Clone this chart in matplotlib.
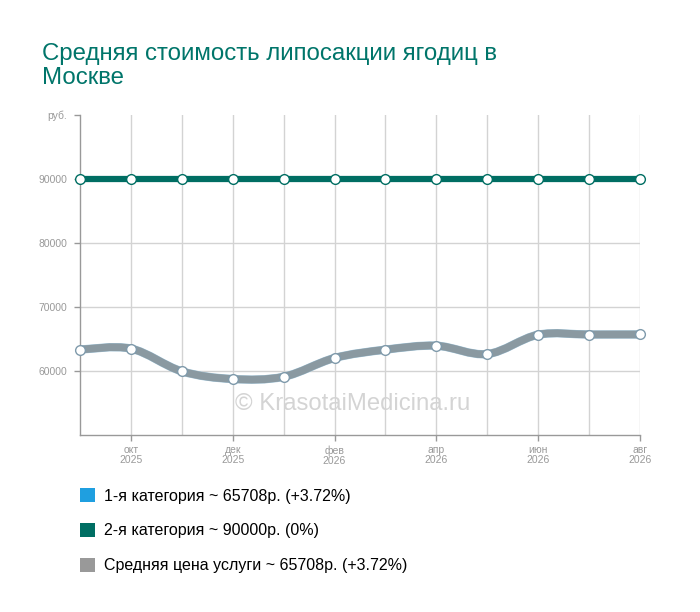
import numpy as np
import matplotlib
matplotlib.use('Agg')
import matplotlib.pyplot as plt
from matplotlib.path import Path
from matplotlib.patches import PathPatch, Patch

plt.rcParams['font.family'] = ['Liberation Sans', 'DejaVu Sans']

months = ['сен', 'окт', 'ноя', 'дек', 'янв', 'фев', 'мар', 'апр', 'май', 'июн', 'июл', 'авг']
years = ['2025', '2025', '2025', '2025', '2026', '2026', '2026', '2026', '2026', '2026', '2026', '2026']
cat1 = [63350, 63500, 59950, 58750, 59100, 62030, 63330, 63950, 62650, 65670, 65700, 65708]
cat2 = [90000] * 12
avg = [63350, 63500, 59950, 58750, 59100, 62030, 63330, 63950, 62650, 65670, 65700, 65708]
labels = ['1-я категория ~ 65708р. (+3.72%)',
          '2-я категория ~ 90000р. (0%)',
          'Средняя цена услуги ~ 65708р. (+3.72%)']
colors = ['#1f9fe0', '#006e63', '#999999']


def spline_path(x, y):
    # smooth curve through the points (bezier segments)
    x = np.asarray(x, float)
    y = np.asarray(y, float)
    verts = [(x[0], y[0])]
    codes = [Path.MOVETO]
    n = len(x)
    for i in range(n - 1):
        x0, y0 = (x[i - 1], y[i - 1]) if i > 0 else (x[i], y[i])
        x3, y3 = (x[i + 2], y[i + 2]) if i + 2 < n else (x[i + 1], y[i + 1])
        c1 = (x[i] + (x[i + 1] - x0) / 6, y[i] + (y[i + 1] - y0) / 6)
        c2 = (x[i + 1] - (x3 - x[i]) / 6, y[i + 1] - (y3 - y[i]) / 6)
        verts += [c1, c2, (x[i + 1], y[i + 1])]
        codes += [Path.CURVE4] * 3
    return Path(verts, codes)


fig = plt.figure(figsize=(7, 6.12), dpi=100)
ax = fig.add_axes([80 / 700, 1 - 435 / 612, 560 / 700, 320 / 612])

xs = np.arange(len(months))
ax.set_xlim(0, len(months) - 1)
ax.set_ylim(50000, 100000)

# vertical grid at every month
for x in xs[1:]:
    ax.axvline(x, color='#d3d3d3', lw=1, zorder=0)
for v in [60000, 70000, 80000, 90000]:
    ax.axhline(v, color='#d3d3d3', lw=1, zorder=0)

ax.set_xticks(xs[1::2])
ax.set_xticklabels([m + '\n' + yy for m, yy in zip(months[1::2], years[1::2])],
                   fontsize=7.5, color='#999999', linespacing=0.95)
ax.set_yticks([60000, 70000, 80000, 90000, 100000])
ax.set_yticklabels(['60000', '70000', '80000', '90000', 'руб.'], fontsize=7.5, color='#999999')
ax.tick_params(axis='y', length=4, width=1, color='#999999', pad=5)
ax.tick_params(axis='x', length=4, width=1, color='#999999', pad=3.5)

for s in ['top', 'right']:
    ax.spines[s].set_visible(False)
for s in ['left', 'bottom']:
    ax.spines[s].set_color('#999999')
    ax.spines[s].set_linewidth(1)

ax.text(0.4875, 0.097, '© KrasotaiMedicina.ru', transform=ax.transAxes, ha='center', va='center',
        fontsize=17.2, color='#d4d4d4', zorder=1)

# 1-я категория (under the average line)
ax.add_patch(PathPatch(spline_path(xs, cat1), fill=False, ec='#9ec3d8', lw=6, zorder=3,
                       capstyle='round', joinstyle='round'))
ax.add_patch(PathPatch(spline_path(xs, avg), fill=False, ec='#8a99a1', lw=5.5, zorder=4,
                       capstyle='round', joinstyle='round'))
ax.plot(xs, avg, ls='none', marker='o', ms=7, mfc='white', mec='#7f9aab', mew=1, zorder=5,
        clip_on=False)

ax.plot(xs, cat2, color=colors[1], lw=4.5, zorder=4, solid_capstyle='butt')
ax.plot(xs, cat2, ls='none', marker='o', ms=7, mfc='white', mec=colors[1], mew=1, zorder=5,
        clip_on=False)

fig.text(42 / 700, 1 - 43 / 612, 'Средняя стоимость липосакции ягодиц в\nМоскве',
         fontsize=17.3, color='#00756a', va='top', ha='left', linespacing=1.12)

handles = [Patch(facecolor=c, edgecolor='none') for c in colors]
fig.legend(handles, labels, loc='upper left', bbox_to_anchor=(66 / 700, 1 - 474 / 612),
           frameon=False, fontsize=11.5, handlelength=0.9, handleheight=0.9,
           handletextpad=0.6, labelspacing=1.24)

fig.savefig('out.png', dpi=100)
